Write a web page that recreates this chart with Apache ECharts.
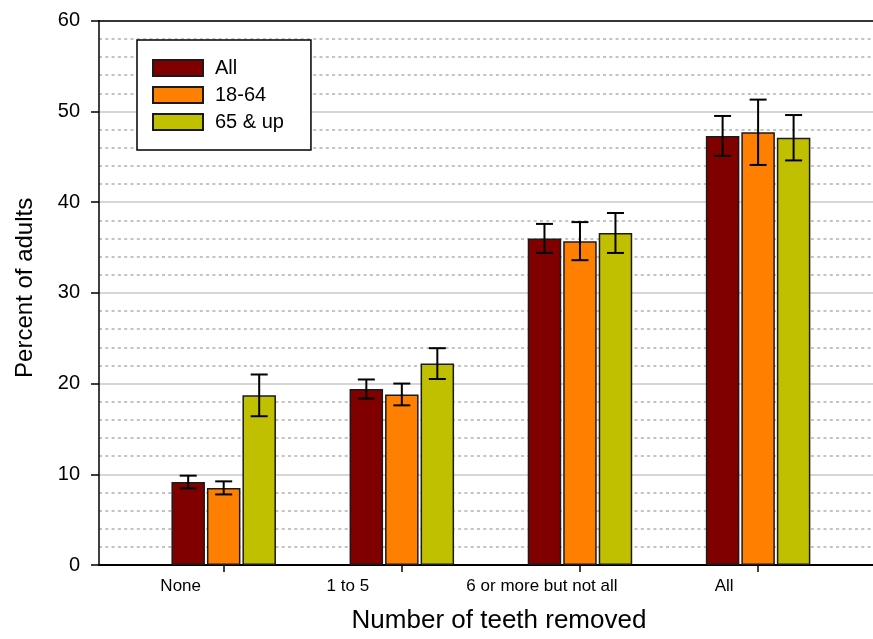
<!DOCTYPE html>
<html>
<head>
<meta charset="utf-8">
<script src="https://cdn.jsdelivr.net/npm/echarts@6/dist/echarts.min.js"></script>
<style>
  html, body { margin: 0; padding: 0; background: #fff; }
  #chart { width: 873px; height: 639px; }
</style>
</head>
<body>
<div id="chart"></div>
<script>
// Share of adults by number of teeth removed, per age group, with error bars
const categories = ['None', '1 to 5', '6 or more but not all', 'All'];
const seriesNames = ['All', '18-64', '65 & up'];

const valuesAll   = [9.15, 19.4, 36.0, 47.3];
const values1864  = [8.5, 18.8, 35.7, 47.7];
const values65up  = [18.7, 22.2, 36.6, 47.1];

// half-widths of the error bars
const errAll   = [0.7, 1.05, 1.6, 2.2];
const err1864  = [0.72, 1.2, 2.1, 3.6];
const err65up  = [2.3, 1.7, 2.2, 2.5];

const yTicks = [0, 10, 20, 30, 40, 50, 60];

const colors = ['#800000', '#ff8000', '#c0c000'];
const FONT = '"Liberation Sans", Arial, Helvetica, sans-serif';

// horizontal extent of the category scale (the plot runs off the right edge)
const X_MIN = 0.3;
const X_MAX = 4.645;

// bar geometry (px)
const BAR_W = 33.5;
const BAR_GAP = 2;
// horizontal shift of each category label relative to its tick (px)
const labelShift = [-43, -54, -38, -34];

const positions = categories.map((c, i) => i + 1);
const valueSets = [valuesAll, values1864, values65up];
const errSets = [errAll, err1864, err65up];

const barSeries = seriesNames.map((name, s) => ({
  name: name,
  type: 'bar',
  barWidth: BAR_W,
  barGap: (BAR_GAP / BAR_W * 100).toFixed(2) + '%',
  data: positions.map((p, i) => [p, valueSets[s][i]]),
  itemStyle: { color: colors[s], borderColor: '#1a1a1a', borderWidth: 1.5 },
  z: 2
}));

const errSeries = seriesNames.map((name, s) => ({
  name: name + ' error',
  type: 'custom',
  z: 3,
  data: positions.map((p, i) => [p, valueSets[s][i] - errSets[s][i], valueSets[s][i] + errSets[s][i]]),
  renderItem: function (params, api) {
    const lo = api.coord([api.value(0), api.value(1)]);
    const hi = api.coord([api.value(0), api.value(2)]);
    const cx = lo[0] + (s - 1) * (BAR_W + BAR_GAP);
    const cap = 8.5;
    const style = { stroke: '#000', lineWidth: 2 };
    return {
      type: 'group',
      children: [
        { type: 'line', shape: { x1: cx, y1: lo[1], x2: cx, y2: hi[1] }, style: style },
        { type: 'line', shape: { x1: cx - cap, y1: lo[1], x2: cx + cap, y2: lo[1] }, style: style },
        { type: 'line', shape: { x1: cx - cap, y1: hi[1], x2: cx + cap, y2: hi[1] }, style: style }
      ]
    };
  }
}));

const rich = {};
categories.forEach((c, i) => {
  const sh = labelShift[i];
  rich['c' + i] = {
    fontSize: 17, color: '#000', fontFamily: FONT,
    padding: sh < 0 ? [0, -2 * sh, 0, 0] : [0, 0, 0, 2 * sh]
  };
});

const chart = echarts.init(document.getElementById('chart'), null, { renderer: 'canvas' });
chart.setOption({
  animation: false,
  backgroundColor: '#fff',
  textStyle: { fontFamily: FONT },
  grid: { left: 99, top: 20.7, right: 0, bottom: 72.3 },
  legend: {
    orient: 'vertical', left: 137, top: 40,
    padding: [18, 27, 18, 15],
    itemWidth: 50, itemHeight: 16, itemGap: 7,
    icon: 'rect',
    borderColor: '#000', borderWidth: 1.5, backgroundColor: '#fff',
    textStyle: { fontSize: 20, color: '#000', fontFamily: FONT, padding: [0, 0, 0, 7] },
    data: seriesNames
  },
  xAxis: [{
    type: 'value', min: X_MIN, max: X_MAX,
    name: 'Number of teeth removed', nameLocation: 'middle', nameGap: 43,
    nameTextStyle: { fontSize: 26, color: '#000', fontFamily: FONT, padding: [0, 0, 0, 26] },
    axisLine: { onZero: false, lineStyle: { color: '#000', width: 2 } },
    axisTick: { show: true, customValues: positions, length: 7, lineStyle: { color: '#000', width: 1.5 } },
    axisLabel: {
      customValues: positions, margin: 13,
      formatter: function (v) { const i = Math.round(v) - 1; return '{c' + i + '|' + categories[i] + '}'; },
      rich: rich
    },
    splitLine: { show: false }
  }, {
    // frame line along the top of the plot
    type: 'value', position: 'top', min: X_MIN, max: X_MAX,
    axisLine: { show: true, onZero: false, lineStyle: { color: '#000', width: 1.5 } },
    axisTick: { show: false }, axisLabel: { show: false }, splitLine: { show: false }
  }],
  yAxis: {
    type: 'value', min: yTicks[0], max: yTicks[yTicks.length - 1], interval: 10,
    name: 'Percent of adults', nameLocation: 'middle', nameGap: 62,
    nameTextStyle: { fontSize: 24, color: '#000', fontFamily: FONT, padding: [0, 0, 0, 10] },
    axisLine: { show: true, onZero: false, lineStyle: { color: '#000', width: 1.5 } },
    axisTick: { show: true, length: 8, lineStyle: { color: '#000', width: 1.5 } },
    axisLabel: { fontSize: 20, color: '#000', margin: 19, fontFamily: FONT },
    splitLine: { show: true, lineStyle: { color: '#c8c8c8', width: 1.5 } },
    minorTick: { show: false, splitNumber: 5 },
    minorSplitLine: { show: true, lineStyle: { color: '#c4c4c4', width: 2, type: [3, 3.3] } }
  },
  series: barSeries.concat(errSeries)
});
</script>
</body>
</html>
